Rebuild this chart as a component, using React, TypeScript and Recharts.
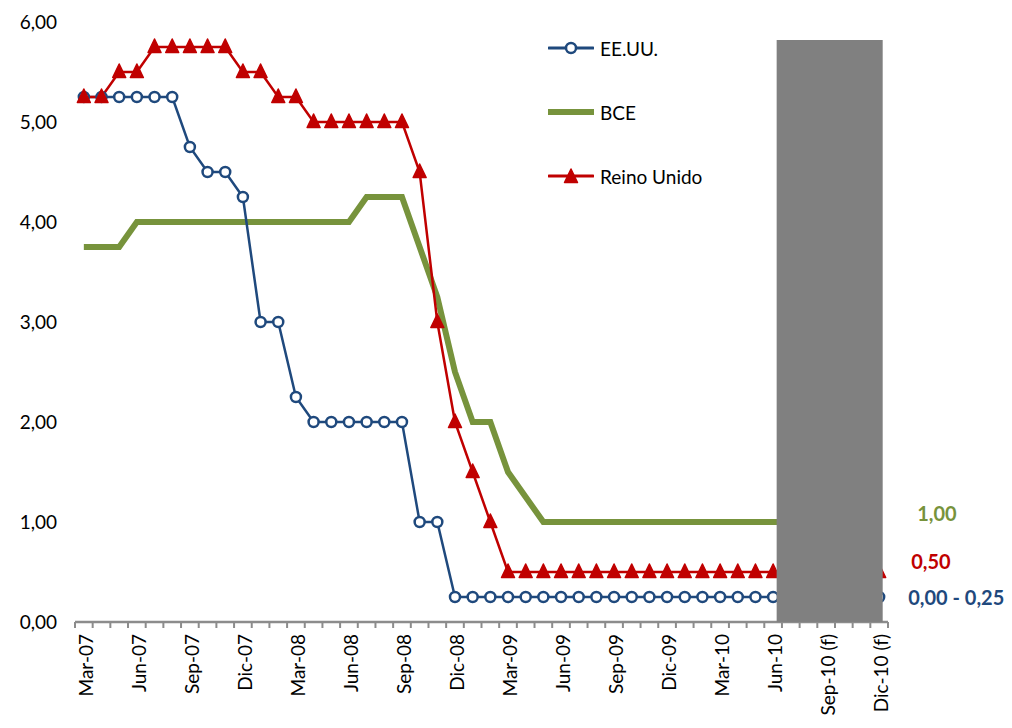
import { Legend, Line, LineChart, ReferenceArea, XAxis, YAxis } from "recharts";

const months = [
  "Mar-07", "Abr-07", "May-07", "Jun-07", "Jul-07", "Ago-07", "Sep-07", "Oct-07", "Nov-07", "Dic-07",
  "Ene-08", "Feb-08", "Mar-08", "Abr-08", "May-08", "Jun-08", "Jul-08", "Ago-08", "Sep-08", "Oct-08", "Nov-08", "Dic-08",
  "Ene-09", "Feb-09", "Mar-09", "Abr-09", "May-09", "Jun-09", "Jul-09", "Ago-09", "Sep-09", "Oct-09", "Nov-09", "Dic-09",
  "Ene-10", "Feb-10", "Mar-10", "Abr-10", "May-10", "Jun-10", "Jul-10 (f)", "Ago-10 (f)", "Sep-10 (f)", "Oct-10 (f)", "Nov-10 (f)", "Dic-10 (f)",
];

// tipos oficiales, %
const eeuu = [
  5.25, 5.25, 5.25, 5.25, 5.25, 5.25, 4.75, 4.5, 4.5, 4.25,
  3.0, 3.0, 2.25, 2.0, 2.0, 2.0, 2.0, 2.0, 2.0, 1.0, 1.0, 0.25,
  0.25, 0.25, 0.25, 0.25, 0.25, 0.25, 0.25, 0.25, 0.25, 0.25, 0.25, 0.25,
  0.25, 0.25, 0.25, 0.25, 0.25, 0.25, 0.25, 0.25, 0.25, 0.25, 0.25, 0.25,
];
const bce = [
  3.75, 3.75, 3.75, 4.0, 4.0, 4.0, 4.0, 4.0, 4.0, 4.0,
  4.0, 4.0, 4.0, 4.0, 4.0, 4.0, 4.25, 4.25, 4.25, 3.75, 3.25, 2.5,
  2.0, 2.0, 1.5, 1.25, 1.0, 1.0, 1.0, 1.0, 1.0, 1.0, 1.0, 1.0,
  1.0, 1.0, 1.0, 1.0, 1.0, 1.0, 1.0, 1.0, 1.0, 1.0, 1.0, 1.0,
];
const reinoUnido = [
  5.25, 5.25, 5.5, 5.5, 5.75, 5.75, 5.75, 5.75, 5.75, 5.5,
  5.5, 5.25, 5.25, 5.0, 5.0, 5.0, 5.0, 5.0, 5.0, 4.5, 3.0, 2.0,
  1.5, 1.0, 0.5, 0.5, 0.5, 0.5, 0.5, 0.5, 0.5, 0.5, 0.5, 0.5,
  0.5, 0.5, 0.5, 0.5, 0.5, 0.5, 0.5, 0.5, 0.5, 0.5, 0.5, 0.5,
];

const yTicks = [0, 1, 2, 3, 4, 5, 6];
const labelTicks = [0, 3, 6, 9, 12, 15, 18, 21, 24, 27, 30, 33, 36, 39, 42, 45];
const forecastBand = [39.2, 45.2];
const forecastTop = 5.82;

const lastLabelEeuu = "0,00 - 0,25";
const lastLabelBce = "1,00";
const lastLabelRu = "0,50";

const BLUE = "#1F497D";
const GREEN = "#77933C";
const RED = "#C00000";
const AXIS = "#8C8C8C";
const FONT = "Lato, 'Open Sans', sans-serif";

const data = months.map((month, i) => ({
  idx: i,
  month,
  eeuu: eeuu[i],
  bce: bce[i],
  ru: reinoUnido[i],
}));

const lastIdx = months.length - 1;
const boundaryTicks = [...months.map((_, i) => i - 0.5), months.length - 0.5];

const fmt = (v: number) => v.toFixed(2).replace(".", ",");

function MonthTick({ x, y, payload }: any) {
  return (
    <g transform={`translate(${x},${y})`}>
      <text
        transform="rotate(-90)"
        x={-11}
        y={1.5}
        textAnchor="end"
        dominantBaseline="central"
        fontSize={19}
        fontFamily={FONT}
        fill="#000"
      >
        {months[payload.value]}
      </text>
    </g>
  );
}

function Triangle({ cx, cy }: any) {
  if (cx == null || cy == null) return <g />;
  return (
    <path
      d={`M${cx},${cy - 8} L${cx + 6.5},${cy + 5.5} L${cx - 6.5},${cy + 5.5} Z`}
      fill={RED}
      stroke={RED}
      strokeWidth={1.5}
      strokeLinejoin="round"
    />
  );
}

function endLabel(text: string, color: string, dx: number, dy: number) {
  return (props: any) => {
    if (props.index !== lastIdx) return <g />;
    return (
      <text
        x={props.x + dx}
        y={props.y + dy}
        dominantBaseline="central"
        fontSize={20}
        fontWeight="bold"
        fontFamily={FONT}
        fill={color}
      >
        {text}
      </text>
    );
  };
}

const legendItems = [
  { name: "EE.UU.", color: BLUE, marker: "circle", width: 3 },
  { name: "BCE", color: GREEN, marker: "none", width: 6 },
  { name: "Reino Unido", color: RED, marker: "triangle", width: 3 },
];

function LegendBox() {
  return (
    <div style={{ fontFamily: FONT, fontSize: 19, color: "#000" }}>
      {legendItems.map((item) => (
        <div key={item.name} style={{ height: 64, display: "flex", alignItems: "center" }}>
          <svg width={46} height={16} style={{ marginRight: 6 }}>
            <line x1={1} y1={8} x2={45} y2={8} stroke={item.color} strokeWidth={item.width} strokeLinecap="round" />
            {item.marker === "circle" && <circle cx={23} cy={8} r={5} fill="#fff" stroke={item.color} strokeWidth={2.5} />}
            {item.marker === "triangle" && <Triangle cx={23} cy={9} />}
          </svg>
          <span>{item.name}</span>
        </div>
      ))}
    </div>
  );
}

export default function App() {
  return (
    <div style={{ position: "absolute", left: 0, top: 0, background: "#fff" }}>
      <LineChart width={1012} height={728} data={data} margin={{ top: 22, right: 124, left: 15, bottom: 5 }}>
        {/* eje de meses: trazo y marcas entre categorías */}
        <XAxis
          type="number"
          dataKey="idx"
          domain={[-0.5, months.length - 0.5]}
          ticks={boundaryTicks}
          interval={0}
          tick={() => <g />}
          tickSize={6}
          stroke={AXIS}
          axisLine={{ stroke: AXIS, strokeWidth: 2.5 }}
          tickLine={{ stroke: AXIS, strokeWidth: 2 }}
          height={1}
        />
        {/* etiquetas trimestrales */}
        <XAxis
          xAxisId="labels"
          type="number"
          dataKey="idx"
          domain={[-0.5, months.length - 0.5]}
          ticks={labelTicks}
          interval={0}
          tick={<MonthTick />}
          tickLine={false}
          axisLine={false}
          tickSize={0}
          tickMargin={0}
          height={100}
        />
        <YAxis
          domain={[0, 6]}
          ticks={yTicks}
          width={60}
          axisLine={false}
          tickLine={false}
          tickSize={0}
          tickMargin={18}
          tickFormatter={fmt}
          tick={{ fontSize: 19, fontFamily: FONT, fill: "#000" }}
        />
        <Legend
          layout="horizontal"
          verticalAlign="middle"
          align="center"
          content={<LegendBox />}
          wrapperStyle={{ left: 548, top: 16, width: 220, height: 200 }}
        />
        <Line
          dataKey="bce"
          name="BCE"
          stroke={GREEN}
          strokeWidth={6}
          dot={false}
          activeDot={false}
          isAnimationActive={false}
          label={endLabel(lastLabelBce, GREEN, 38, -9)}
        />
        <Line
          dataKey="eeuu"
          name="EE.UU."
          stroke={BLUE}
          strokeWidth={2.5}
          dot={{ r: 5, fill: "#fff", stroke: BLUE, strokeWidth: 2.5 }}
          activeDot={false}
          isAnimationActive={false}
          label={endLabel(lastLabelEeuu, BLUE, 29, 0)}
        />
        <Line
          dataKey="ru"
          name="Reino Unido"
          stroke={RED}
          strokeWidth={2.5}
          dot={<Triangle />}
          activeDot={false}
          isAnimationActive={false}
          label={endLabel(lastLabelRu, RED, 32, -11)}
        />
        <ReferenceArea
          x1={forecastBand[0]}
          x2={forecastBand[1]}
          y1={0}
          y2={forecastTop}
          fill="#808080"
          fillOpacity={1}
          stroke="none"
          ifOverflow="visible"
          zIndex={1000}
        />
      </LineChart>
    </div>
  );
}
